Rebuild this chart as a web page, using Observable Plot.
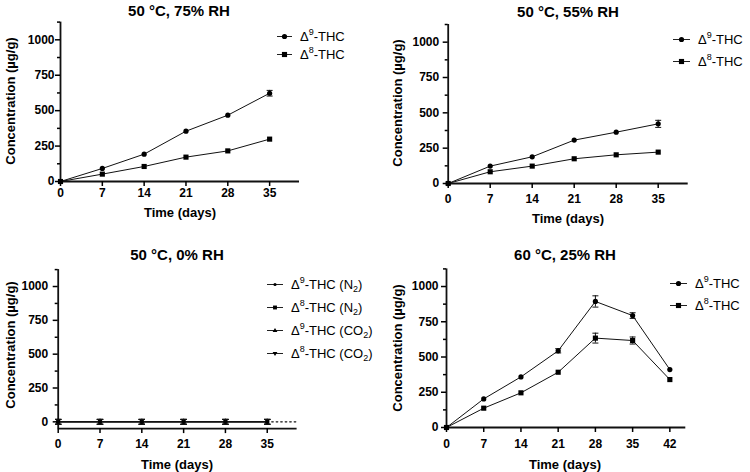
<!DOCTYPE html>
<html>
<head>
<meta charset="utf-8">
<script src="https://cdn.jsdelivr.net/npm/d3@7"></script>
<script src="https://cdn.jsdelivr.net/npm/@observablehq/plot@0.6"></script>
<style>
  html, body { margin: 0; padding: 0; background: #fff; }
  #root { position: relative; width: 750px; height: 472px; background: #fff; overflow: hidden;
          font-family: "Liberation Sans", Arial, sans-serif; color: #000; }
  .abs { position: absolute; white-space: nowrap; }
  .title { font-size: 15px; font-weight: bold; transform: translate(-50%, -50%); }
  .xlab { font-size: 13px; font-weight: bold; transform: translate(-50%, -50%); }
  .ylab { font-size: 13px; font-weight: bold; transform: translate(-50%, -50%) rotate(-90deg); }
  .leg { font-size: 13px; display: flex; align-items: center; transform: translateY(-50%); }
  .leg sup { font-size: 9px; vertical-align: 6px; line-height: 0; }
  .leg sub { font-size: 9px; vertical-align: -3px; line-height: 0; }
  .leg svg { margin-right: 8px; overflow: visible; }
  .panel { position: absolute; }
  .panel svg text { font-weight: bold; font-size: 12px; fill: #000; }
</style>
</head>
<body>
<div id="root"></div>
<script>
// ---------------- data ----------------
const days35 = [0, 7, 14, 21, 28, 35];
const days42 = [0, 7, 14, 21, 28, 35, 42];

// 50 °C, 75% RH
const d9_75 = [0, 92, 193, 355, 468, 623];
const d9_75_sd = [0, 0, 0, 0, 0, 20];
const d8_75 = [0, 52, 106, 172, 216, 299];
const d8_75_sd = [0, 0, 0, 0, 0, 0];

// 50 °C, 55% RH
const d9_55 = [0, 123, 189, 307, 363, 422];
const d9_55_sd = [0, 0, 0, 0, 0, 25];
const d8_55 = [0, 83, 123, 175, 203, 222];
const d8_55_sd = [0, 0, 0, 0, 0, 0];

// 50 °C, 0% RH
const d9_n2 = [0, 0, 0, 0, 0, 0];
const d8_n2 = [0, 0, 0, 0, 0, 0];
const d9_co2 = [0, 0, 0, 0, 0, 0];
const d8_co2 = [0, 0, 0, 0, 0, 0];
const zero_sd = [18, 18, 18, 18, 18, 18];
const dottedX = [35, 40];

// 60 °C, 25% RH
const d9_60 = [0, 203, 359, 544, 894, 794, 411];
const d9_60_sd = [0, 0, 0, 15, 40, 20, 0];
const d8_60 = [0, 137, 246, 392, 634, 617, 340];
const d8_60_sd = [0, 0, 0, 0, 35, 25, 0];

const yMajor = [0, 250, 500, 750, 1000];
const yMinor = [125, 375, 625, 875, 1125];

// ---------------- helpers ----------------
const root = document.getElementById("root");
const FONT = "Liberation Sans, Arial, sans-serif";
const fmt = d3.format("d");

const capSymbol = {
  draw(ctx, size) {
    const r = Math.sqrt(size / Math.PI);
    ctx.moveTo(-r, 0); ctx.lineTo(r, 0);
  }
};
const triDown = {
  draw(ctx, size) {
    const r = Math.sqrt(size / Math.PI) * 1.2;
    ctx.moveTo(-r, -r * 0.6); ctx.lineTo(r, -r * 0.6); ctx.lineTo(0, r * 1.0); ctx.closePath();
  }
};
const triUp = {
  draw(ctx, size) {
    const r = Math.sqrt(size / Math.PI) * 1.2;
    ctx.moveTo(-r, r * 0.6); ctx.lineTo(r, r * 0.6); ctx.lineTo(0, -r * 1.0); ctx.closePath();
  }
};

function rows(name, xs, ys, sds) {
  return xs.map((x, i) => ({ series: name, x, y: ys[i], sd: sds ? sds[i] : 0 }));
}

function addDiv(cls, x, y, html) {
  const d = document.createElement("div");
  d.className = "abs " + cls;
  d.style.left = x + "px";
  d.style.top = y + "px";
  d.innerHTML = html;
  root.appendChild(d);
  return d;
}

function panel(o) {
  const marks = [];
  marks.push(Plot.ruleX([o.xdom[0]], { stroke: "#111", strokeWidth: 1.8 }));
  marks.push(Plot.ruleY([o.ydom[0]], { stroke: "#111", strokeWidth: 1.8 }));
  marks.push(Plot.axisY(yMajor, { tickSize: 5, tickPadding: o.padY, strokeWidth: 1.5, label: null, tickFormat: fmt, fontSize: 12, fontWeight: "bold" }));
  marks.push(Plot.axisY(yMinor, { tickSize: 3, tickFormat: () => "", strokeWidth: 1.5, label: null }));
  marks.push(Plot.axisX(o.xticks, { tickSize: 5, tickPadding: o.padX, strokeWidth: 1.5, label: null, tickFormat: fmt, fontSize: 12, fontWeight: "bold" }));
  if (o.extra) marks.push(...o.extra);
  for (const s of o.series) {
    const data = s.data;
    marks.push(Plot.line(data, { x: "x", y: "y", stroke: "#111", strokeWidth: 1 }));
    const eb = data.filter(d => d.sd > 0);
    marks.push(Plot.ruleX(eb, { x: "x", y1: d => d.y - d.sd, y2: d => d.y + d.sd, stroke: "#111", strokeWidth: 1 }));
    marks.push(Plot.dot(eb, { x: "x", y: d => d.y + d.sd, symbol: capSymbol, r: o.cap || 3, stroke: "#111", strokeWidth: 1, fill: "none" }));
    marks.push(Plot.dot(eb, { x: "x", y: d => d.y - d.sd, symbol: capSymbol, r: o.cap || 3, stroke: "#111", strokeWidth: 1, fill: "none" }));
    marks.push(Plot.dot(data, { x: "x", y: "y", symbol: s.symbol, r: s.r, fill: "#000", stroke: "none" }));
  }
  const chart = Plot.plot({
    width: o.w, height: o.h,
    marginLeft: o.ml, marginRight: o.mr, marginTop: o.mt, marginBottom: o.mb,
    style: { fontFamily: FONT, fontSize: "12px", fontWeight: "bold", color: "#000", background: "transparent", overflow: "visible" },
    x: { domain: o.xdom, axis: null },
    y: { domain: o.ydom, axis: null },
    marks
  });
  const wrap = document.createElement("div");
  wrap.className = "panel";
  wrap.style.left = o.left + "px";
  wrap.style.top = o.top + "px";
  wrap.appendChild(chart);
  root.appendChild(wrap);
  addDiv("title", o.title[0], o.title[1], o.title[2]);
  addDiv("xlab", o.xlab[0], o.xlab[1], "Time (days)");
  addDiv("ylab", o.ylab[0], o.ylab[1], "Concentration (µg/g)");
  o.legend.items.forEach((it, i) => {
    const pathStr = d3.symbol(it.symbol, Math.PI * it.r * it.r)();
    const svg = `<svg width="${o.legend.lw}" height="10" viewBox="0 0 ${o.legend.lw} 10"><line x1="0" x2="${o.legend.lw}" y1="5" y2="5" stroke="#222" stroke-width="1"/><path d="${pathStr}" transform="translate(${o.legend.lw / 2},5)" fill="#000"/></svg>`;
    addDiv("leg", o.legend.x, o.legend.ys[i], svg + `<span>${it.label}</span>`);
  });
}

const D9 = "Δ<sup>9</sup>-THC", D8 = "Δ<sup>8</sup>-THC";

// Panel 1: 50 °C, 75% RH
panel({
  left: 0, top: 0, w: 375, h: 236, ml: 60, mr: 76, mt: 21.6, mb: 55,
  xdom: [0, 40], xticks: days35, ydom: [0, 1125], padX: 2, padY: 1,
  series: [
    { data: rows("d9", days35, d9_75, d9_75_sd), symbol: "circle", r: 2.6 },
    { data: rows("d8", days35, d8_75, d8_75_sd), symbol: "square", r: 2.9 }
  ],
  title: [179, 10, "50 °C, 75% RH"], xlab: [180, 212], ylab: [10, 101],
  legend: { x: 277, ys: [36, 54], lw: 15, items: [
    { symbol: d3.symbolCircle, r: 2.6, label: D9 },
    { symbol: d3.symbolSquare, r: 2.9, label: D8 }] }
});

// Panel 2: 50 °C, 55% RH
panel({
  left: 375, top: 0, w: 375, h: 236, ml: 72.7, mr: 62.3, mt: 24, mb: 53,
  xdom: [0, 40], xticks: days35, ydom: [0, 1125], padX: 6, padY: 4,
  series: [
    { data: rows("d9", days35, d9_55, d9_55_sd), symbol: "circle", r: 2.6 },
    { data: rows("d8", days35, d8_55, d8_55_sd), symbol: "square", r: 2.9 }
  ],
  title: [568, 11, "50 °C, 55% RH"], xlab: [568, 218], ylab: [397, 103],
  legend: { x: 673, ys: [39, 61], lw: 17, items: [
    { symbol: d3.symbolCircle, r: 2.6, label: D9 },
    { symbol: d3.symbolSquare, r: 2.9, label: D8 }] }
});

// Panel 3: 50 °C, 0% RH
panel({
  left: 0, top: 236, w: 375, h: 236, ml: 57.7, mr: 78.4, mt: 33.1, mb: 43.9,
  xdom: [0, 40], xticks: days35, ydom: [-50, 1125], padX: 6, padY: 5, cap: 3.2,
  extra: [Plot.line(dottedX.map(x => ({ x, y: 0 })), { x: "x", y: "y", stroke: "#111", strokeWidth: 1.3, strokeDasharray: "1.5,3" })],
  series: [
    { data: rows("d9n2", days35, d9_n2, zero_sd), symbol: "circle", r: 1.8 },
    { data: rows("d8n2", days35, d8_n2, zero_sd), symbol: "square", r: 2.2 },
    { data: rows("d9co2", days35, d9_co2, zero_sd), symbol: triUp, r: 2 },
    { data: rows("d8co2", days35, d8_co2, zero_sd), symbol: triDown, r: 2 }
  ],
  title: [177, 254, "50 °C, 0% RH"], xlab: [177, 464], ylab: [10, 345],
  legend: { x: 267, ys: [284, 307, 330, 353], lw: 16, items: [
    { symbol: d3.symbolCircle, r: 1.6, label: D9 + " (N<sub>2</sub>)" },
    { symbol: d3.symbolSquare, r: 2.2, label: D8 + " (N<sub>2</sub>)" },
    { symbol: triUp, r: 2, label: D9 + " (CO<sub>2</sub>)" },
    { symbol: triDown, r: 2, label: D8 + " (CO<sub>2</sub>)" }] }
});

// Panel 4: 60 °C, 25% RH
panel({
  left: 375, top: 236, w: 375, h: 236, ml: 71, mr: 64.7, mt: 32.4, mb: 45,
  xdom: [0, 45], xticks: days42, ydom: [0, 1125], padX: 7, padY: 3,
  series: [
    { data: rows("d9", days42, d9_60, d9_60_sd), symbol: "circle", r: 2.6 },
    { data: rows("d8", days42, d8_60, d8_60_sd), symbol: "square", r: 2.9 }
  ],
  title: [565, 254, "60 °C, 25% RH"], xlab: [565, 464], ylab: [397, 348],
  legend: { x: 670, ys: [283, 305], lw: 17, items: [
    { symbol: d3.symbolCircle, r: 2.6, label: D9 },
    { symbol: d3.symbolSquare, r: 2.9, label: D8 }] }
});
</script>
</body>
</html>
